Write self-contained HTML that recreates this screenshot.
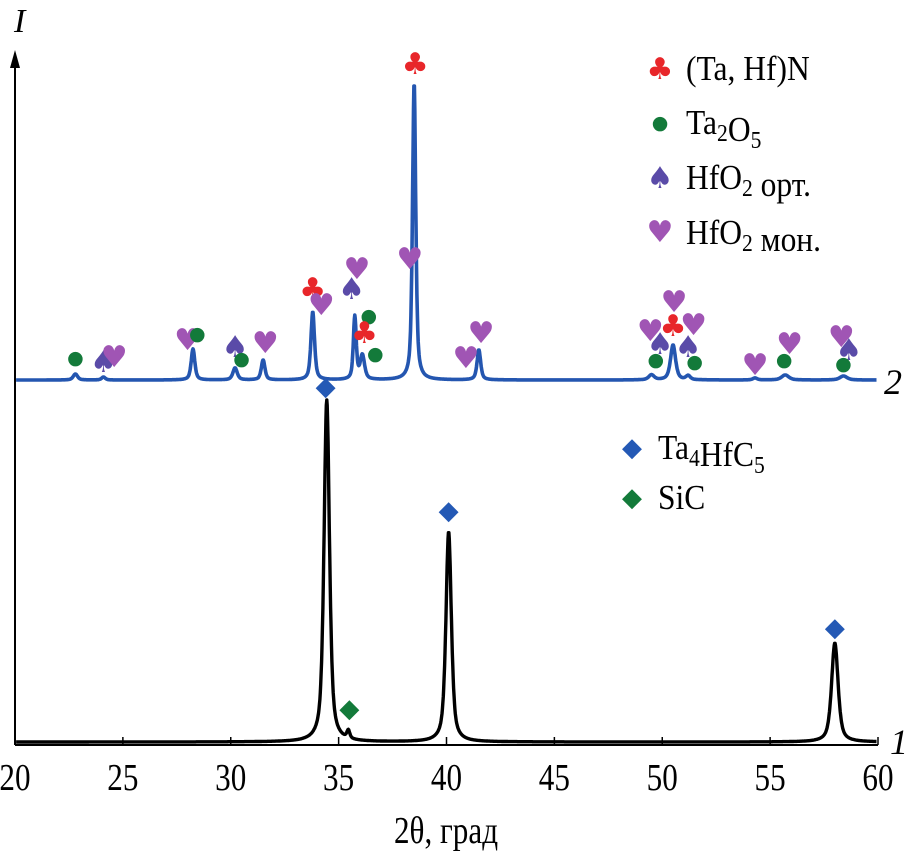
<!DOCTYPE html>
<html><head><meta charset="utf-8"><style>
html,body{margin:0;padding:0;background:#fff}
svg{display:block}
</style></head><body>
<svg id="chart" width="906" height="862" viewBox="0 0 906 862"></svg>
<script>
// x ticks
const xTicks=[20,25,30,35,40,45,50,55,60];
// curve 2 peaks: angle, height, width
const p2Angles=[22.8,24.1,28.25,30.2,31.5,33.8,35.75,36.1,38.5,41.5,49.5,50.5,51.2,54.3,55.7,58.4];
const p2Heights=[6,3,31,12,20,68,63,24,297,30,5,35,4,2,5,4];
const p2Widths=[0.12,0.1,0.1,0.12,0.1,0.1,0.08,0.12,0.09,0.1,0.15,0.14,0.12,0.12,0.2,0.2];
// curve 1 peaks
const p1Angles=[34.45,35.45,40.1,58.0];
const p1Heights=[342,8,210,99];
const p1Widths=[0.15,0.08,0.15,0.18];
// markers: angle, height above curve-2 baseline, type
const m2Angles=[22.8,24.1,24.6,28.0,28.45,30.2,30.5,31.6,33.8,34.2,35.85,35.6,36.4,36.2,36.7,38.3,38.55,40.9,41.6,49.45,49.9,49.7,50.5,50.55,51.45,51.2,51.5,54.3,55.9,55.65,58.3,58.65,58.4];
const m2Heights=[23,19,23,40,47,34,22,37,92,75,111,92,65,48,27,121,317,22,47,49,37,21,55,78,55,34,19,15,36,21,43,31,17];
const m2Types=['g','s','h','h','g','s','g','h','c','h','h','s','g','c','g','h','c','h','h','h','s','g','c','h','h','s','g','h','h','g','h','s','g'];
// curve 1 markers
const m1Angles=[34.4,40.1,58.0,35.5];
const m1Heights=[356,232,115,34];
const m1Types=['d','d','d','dg'];

const X0=15,X1=878,B1=742,B2=380,AX=745;
const xs=a=>X0+(a-20)*(X1-X0)/40;
const SERIF='"Liberation Serif", serif';
const ns="http://www.w3.org/2000/svg";
const svg=document.getElementById('chart');
function mk(tag,attrs,parent){const e=document.createElementNS(ns,tag);for(const k in attrs)e.setAttribute(k,attrs[k]);(parent||svg).appendChild(e);return e;}
function curve(ang,hts,wds,base){
  let d='';
  for(let a=20.05;a<=59.95;a+=0.02){
    let v=0;
    for(let i=0;i<ang.length;i++){const t=(a-ang[i])/wds[i];v+=hts[i]*(0.6/(1+t*t)+0.4*Math.exp(-t*t*0.7));}
    d+=(d?'L':'M')+xs(a).toFixed(1)+','+(base-v).toFixed(1);
  }
  return d;
}
const c2=mk('path',{d:curve(p2Angles,p2Heights,p2Widths,B2),fill:'none',stroke:'#2456b0','stroke-width':3.6,'stroke-linejoin':'round'});


const c1=mk('path',{d:curve(p1Angles,p1Heights,p1Widths,B1),fill:'none',stroke:'#000','stroke-width':3.4,'stroke-linejoin':'round'});



// axes
const xa=mk('line',{x1:X0,y1:AX,x2:X1,y2:AX,stroke:'#000','stroke-width':2});


const ya=mk('line',{x1:X0,y1:AX,x2:X0,y2:62,stroke:'#000','stroke-width':2});


const ar=mk('path',{d:`M${X0-5},68 L${X0},50 L${X0+5},68 Z`,fill:'#000'});


function ctext(x,y,size,str){
  const g=mk('g',{transform:`translate(${x},${y}) scale(0.82,1)`});
  const t=mk('text',{x:0,y:0,'font-size':size,'text-anchor':'middle','font-family':SERIF},g);
  t.textContent=str;
  return t;
}
xTicks.forEach(t=>{
  const l=mk('line',{x1:xs(t),y1:AX,x2:xs(t),y2:AX-8,stroke:'#000','stroke-width':1.5});
  
  
  const tx=ctext(xs(t),790,38,t);
  
  
});
const xt=ctext(446,843,38,'2θ, град');


const yt=mk('text',{x:14,y:32,'font-size':34,'font-style':'italic','font-family':SERIF});
yt.textContent='I';


const l2=mk('text',{x:884,y:394,'font-size':36,'font-style':'italic','font-family':SERIF});
l2.textContent='2';


const l1=mk('text',{x:890,y:754,'font-size':36,'font-style':'italic','font-family':SERIF});
l1.textContent='1';



const sym={c:['♣','#e8262a',30,11],g:['●','#137a3a',19,7],s:['♠','#5a4ba8',30,11],h:['♥','#a055b4',30,10],d:['◆','#2459b5',26,9],dg:['◆','#137a3a',26,9]};
function marker(x,y,t){
  const s=sym[t];
  const e=mk('text',{x:x,y:y+s[3],'font-size':s[2],'text-anchor':'middle',fill:s[1],'font-family':'DejaVu Sans'});
  e.textContent=s[0];
  
  
}
m2Angles.forEach((a,i)=>marker(xs(a),B2-m2Heights[i],m2Types[i]));
m1Angles.forEach((a,i)=>marker(xs(a),B1-m1Heights[i],m1Types[i]));

// legend
const sb=s=>`<tspan dy="7" font-size="24">${s}</tspan><tspan dy="-7"></tspan>`;
const leg=[[68,'c','(Ta, Hf)N'],[122,'g','Ta'+sb('2')+'O'+sb('5')],[177,'s','HfO'+sb('2')+' орт.'],[232,'h','HfO'+sb('2')+' мон.'],[447,'d','Ta'+sb('4')+'HfC'+sb('5')],[497,'dg','SiC']];
leg.forEach(([y,t,lab],i)=>{
  const lx=i<4?660:632;
  marker(lx,y,t);
  const g=mk('g',{transform:`translate(${lx+26},${y+12}) scale(0.9,1)`});
  const tx=mk('text',{x:0,y:0,'font-size':35,'font-family':SERIF},g);
  tx.innerHTML=lab;
  
  
});
</script>
</body></html>
